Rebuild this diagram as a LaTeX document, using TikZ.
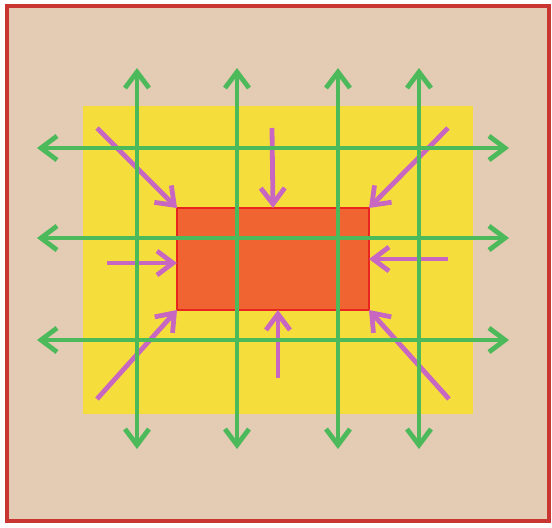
\documentclass[tikz,border=0pt]{standalone}
\usetikzlibrary{arrows.meta}

\definecolor{sand}{HTML}{E4CBB3}
\definecolor{frame red}{HTML}{C93530}
\definecolor{zone yellow}{HTML}{F5DE3C}
\definecolor{core orange}{HTML}{EF6430}
\definecolor{core red}{HTML}{E8261E}
\definecolor{grid green}{HTML}{4CB95A}
\definecolor{push pink}{HTML}{C767C2}

\begin{document}
\begin{tikzpicture}[
    x=0.5pt, y=-0.5pt,
    area/.style={rectangle, inner sep=0pt, outer sep=0pt},
    grid arrow/.style={{Straight Barb[length=8pt, width=12pt]}-{Straight Barb[length=8pt, width=12pt]},
        line width=2.4pt, draw=grid green},
    push/.style={-{Straight Barb[length=8pt, width=12pt]}, line width=2.4pt, draw=push pink}
]

\useasboundingbox (0,0) rectangle (552,527);

% ------------------------------------------------------------------------------
% 1. ZONAS
% ------------------------------------------------------------------------------
\node[area, fill=sand, draw=frame red, line width=1.7pt,
      minimum width=271pt, minimum height=257.5pt] (frame) at (278,263.5) {};
\node[area, fill=zone yellow, minimum width=195pt, minimum height=154pt] (zone) at (278,260) {};
\node[area, fill=core orange, draw=core red, line width=1.4pt,
      minimum width=96pt, minimum height=51pt] (core) at (273,259) {};

% ------------------------------------------------------------------------------
% 2. FLECHAS HACIA EL NUCLEO
% ------------------------------------------------------------------------------
\coordinate (p nw) at (97,128);
\coordinate (p n)  at (272,128);
\coordinate (p ne) at (448,128);
\coordinate (p w)  at (107,263);
\coordinate (p e)  at (448,259);
\coordinate (p sw) at (97,399);
\coordinate (p s)  at (278,378);
\coordinate (p se) at (449,399);

\draw[push] (p nw) -- (core.north west);
\draw[push] (p n)  -- (core.north);
\draw[push] (p ne) -- (core.north east);
\draw[push] (p w)  -- (core.west |- p w);
\draw[push] (p e)  -- (core.east);
\draw[push] (p sw) -- (core.south west);
\draw[push] (p s)  -- (p s |- core.south);
\draw[push] (p se) -- (core.south east);

% ------------------------------------------------------------------------------
% 3. REJILLA (bucles)
% ------------------------------------------------------------------------------
\foreach \x [count=\i] in {137, 237, 338, 419} {
    \coordinate (col top \i) at (\x,68);
    \coordinate (col bot \i) at (\x,449);
    \draw[grid arrow] (col top \i) -- (col bot \i);
}

\foreach \y [count=\i] in {148, 238, 340} {
    \coordinate (row left \i) at (37,\y);
    \coordinate (row right \i) at (509,\y);
    \draw[grid arrow] (row left \i) -- (row right \i);
}

\end{tikzpicture}
\end{document}
